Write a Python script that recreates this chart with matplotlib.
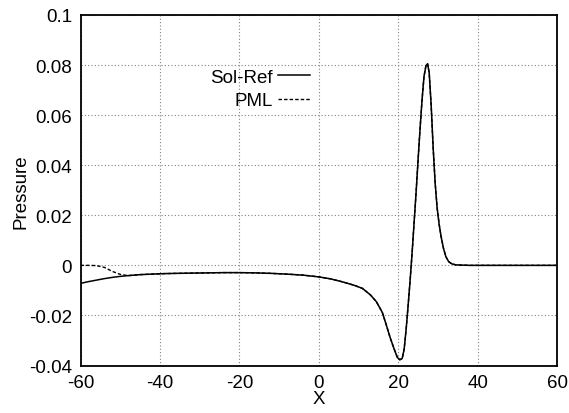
import matplotlib
matplotlib.use('Agg')
import matplotlib.pyplot as plt

plt.rcParams['font.family'] = ['Liberation Sans', 'DejaVu Sans']
plt.rcParams['axes.unicode_minus'] = False

# Sampled positions along X
x_vals = [-60, -58, -56, -54, -52, -50, -48, -45, -42, -39, -36, -32, -28,
          -24, -20, -16, -12, -8, -4, 0, 3, 6, 9, 11, 13, 14.5, 16, 17, 18,
          19, 19.8, 20.4, 21, 21.5, 22, 22.5, 23, 23.5, 24, 24.5, 25, 25.5,
          26, 26.5, 27, 27.4, 27.8, 28.3, 28.8, 29.3, 29.8, 30.3, 30.8, 31.4,
          32, 32.7, 33.5, 34.5, 36, 38, 40, 45, 50, 55, 60]

# Reference solution pressure
ref_p = [-0.0072, -0.0065, -0.0059, -0.0053, -0.0048, -0.0044, -0.0041,
         -0.0037, -0.0035, -0.0033, -0.0032, -0.0031, -0.0030, -0.0029,
         -0.0029, -0.0030, -0.0032, -0.0035, -0.0039, -0.0046, -0.0054,
         -0.0066, -0.0080, -0.0092, -0.0118, -0.0145, -0.0188, -0.0238,
         -0.0290, -0.0335, -0.0368, -0.0377, -0.0372, -0.0335, -0.0255,
         -0.0160, -0.0060, 0.0050, 0.0170, 0.0290, 0.0420, 0.0545, 0.0660,
         0.0755, 0.0798, 0.0805, 0.0770, 0.0640, 0.0470, 0.0330, 0.0230,
         0.0165, 0.0115, 0.0068, 0.0035, 0.0015, 0.0006, 0.0002, 0.0001,
         0.0, 0.0, 0.0, 0.0, 0.0, 0.0]

# PML solution: differs only near the left boundary, same as reference after X=-48
pml_p = [0.0, 0.0, -0.0001, -0.0008, -0.0024, -0.0036] + ref_p[6:]

y_ticks = [-0.04, -0.02, 0, 0.02, 0.04, 0.06, 0.08, 0.1]
y_labels = ['-0.04', '-0.02', '0', '0.02', '0.04', '0.06', '0.08', '0.1']
x_ticks = [-60, -40, -20, 0, 20, 40, 60]

fs = 13.5

fig = plt.figure(figsize=(5.69, 4.14), dpi=100)
ax = fig.add_axes([0.1415, 0.1147, 0.979 - 0.1415, 0.9614 - 0.1147])

ax.plot(x_vals, pml_p, color='black', lw=1.0, linestyle=(0, (2.5, 1.5)),
        label='PML', zorder=3)
ax.plot(x_vals, ref_p, color='black', lw=1.1, label='Sol-Ref', zorder=4)

ax.set_xlim(-60, 60)
ax.set_ylim(-0.04, 0.1)
ax.set_xticks(x_ticks)
ax.set_xticklabels([str(t) for t in x_ticks])
ax.set_yticks(y_ticks)
ax.set_yticklabels(y_labels)
ax.tick_params(length=0, labelsize=fs)
ax.tick_params(axis='x', pad=6)
ax.tick_params(axis='y', pad=6)

ax.grid(True, color='#808080', linestyle=(0, (1, 2)), linewidth=0.8)
for s in ax.spines.values():
    s.set_linewidth(1.3)

ax.set_xlabel('X', fontsize=fs, labelpad=-0.5)
ax.set_ylabel('Pressure', fontsize=fs, labelpad=0)

# gnuplot-like key: labels right-aligned, line sample after the text
handles, labels = ax.get_legend_handles_labels()
ax.legend(handles[::-1], labels[::-1], loc='upper right',
          bbox_to_anchor=(0.482, 0.847), frameon=False, markerfirst=False,
          fontsize=fs, handlelength=1.7, handletextpad=0.3,
          borderpad=0, borderaxespad=0, labelspacing=0.35)

fig.savefig('out.png', dpi=100)
